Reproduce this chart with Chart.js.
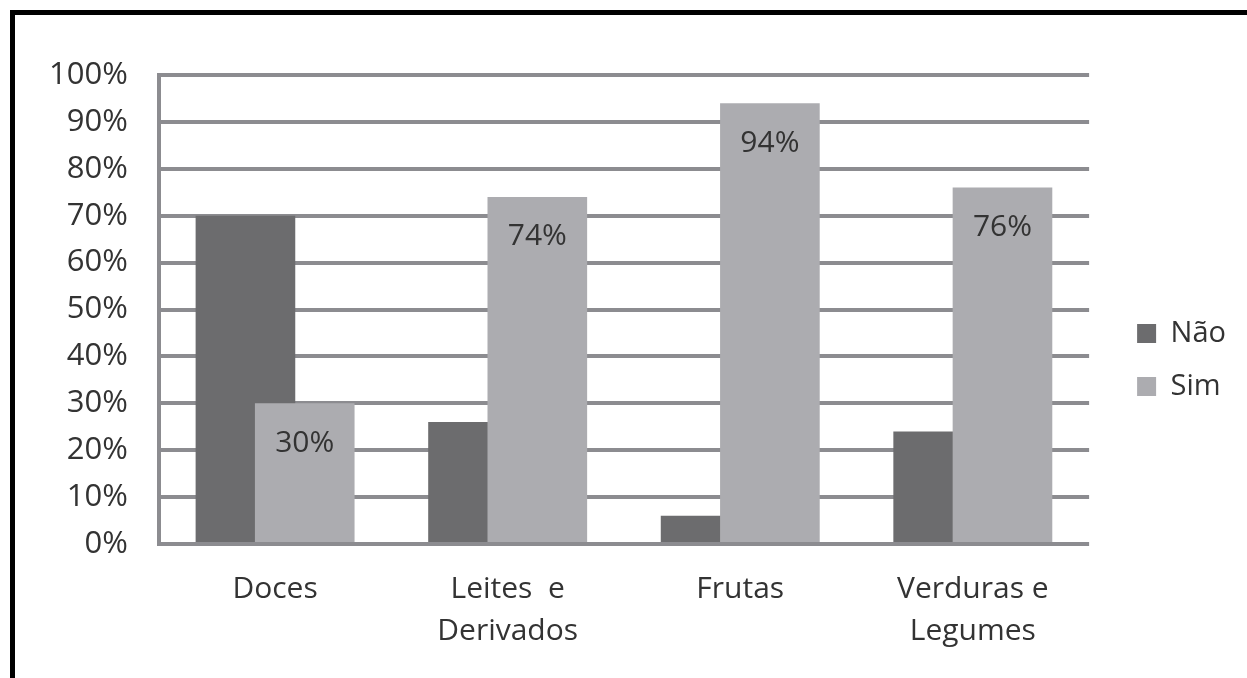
<!DOCTYPE html>
<html>
<head>
<meta charset="utf-8">
<script src="https://cdn.jsdelivr.net/npm/chart.js@4"></script>
<style>
  html, body { margin: 0; padding: 0; background: #fff; overflow: hidden; }
  #wrap { position: relative; width: 1247px; height: 678px; overflow: hidden; }
  #frame { position: absolute; left: 10px; top: 10px; width: 1300px; height: 720px; border: 5px solid #000; box-sizing: border-box; }
  #c { position: absolute; left: 0; top: 0; }
</style>
</head>
<body>
<div id="wrap">
  <div id="frame"></div>
  <canvas id="c" width="1247" height="678"></canvas>
</div>
<script>
// Consumo por grupo de alimentos (%)
const categories = [['Doces'], ['Leites  e', 'Derivados'], ['Frutas'], ['Verduras e', 'Legumes']];
const naoValues = [70, 26, 6, 24];
const simValues = [30, 74, 94, 76];
const yTicks = [0, 10, 20, 30, 40, 50, 60, 70, 80, 90, 100];

const FONT = 'Open Sans';
const TEXT = '#333333';
const GRID = '#8c8c90';

// Sim bars overlap Não bars, so Não is painted first and Sim on top of it.
const paintOrder = {
  id: 'paintOrder',
  beforeDatasetsDraw(chart) {
    const meta = chart.getDatasetMeta(0);
    if (!meta.hidden) meta.controller.draw();
  },
  beforeDatasetDraw(chart, args) {
    if (args.index === 0) return false;
  }
};

// Legend sits a little away from the plot, centred on the middle of the page height
const legendPlace = {
  id: 'legendPlace',
  afterLayout(chart) {
    const lg = chart.legend;
    const w = lg.width;
    lg.left = chart.chartArea.right + 24;
    lg.right = lg.left + w;
    lg.top = 50;
    lg.bottom = 670;
  }
};

// Value labels inside the Sim bars
const simLabels = {
  id: 'simLabels',
  afterDatasetsDraw(chart) {
    const meta = chart.getDatasetMeta(1);
    const ctx = chart.ctx;
    ctx.save();
    ctx.font = '30px "' + FONT + '"';
    ctx.fillStyle = TEXT;
    ctx.textAlign = 'center';
    ctx.textBaseline = 'middle';
    meta.data.forEach((bar, i) => {
      ctx.fillText(simValues[i] + '%', bar.x, bar.y + 40);
    });
    ctx.restore();
  }
};

new Chart(document.getElementById('c'), {
  type: 'bar',
  data: {
    labels: categories,
    datasets: [
      { label: 'Não', data: naoValues, backgroundColor: '#6c6c6e', borderWidth: 0,
        categoryPercentage: 0.51, barPercentage: 1.68 },
      { label: 'Sim', data: simValues, backgroundColor: '#acacb0', borderWidth: 0,
        categoryPercentage: 0.51, barPercentage: 1.68 }
    ]
  },
  options: {
    responsive: false,
    animation: false,
    devicePixelRatio: 1,
    layout: { padding: { left: 18, top: 75, right: 35, bottom: 10 } },
    plugins: {
      tooltip: { enabled: false },
      legend: {
        position: 'right',
        labels: {
          boxWidth: 19,
          boxHeight: 19,
          padding: 24,
          color: TEXT,
          font: { family: FONT, size: 29 }
        }
      }
    },
    scales: {
      x: {
        grid: { display: false },
        border: { display: false },
        ticks: {
          color: TEXT,
          font: { family: FONT, size: 30, lineHeight: 1.4 },
          padding: 16,
          maxRotation: 0,
          autoSkip: false
        }
      },
      y: {
        min: 0,
        max: 100,
        afterBuildTicks(scale) { scale.ticks = yTicks.map(v => ({ value: v })); },
        grid: { color: GRID, lineWidth: 4, drawTicks: false },
        border: { display: true, color: GRID, width: 4 },
        ticks: {
          color: TEXT,
          font: { family: FONT, size: 31 },
          padding: 31,
          callback: v => v + '%'
        }
      }
    }
  },
  plugins: [paintOrder, legendPlace, simLabels]
});
</script>
</body>
</html>
